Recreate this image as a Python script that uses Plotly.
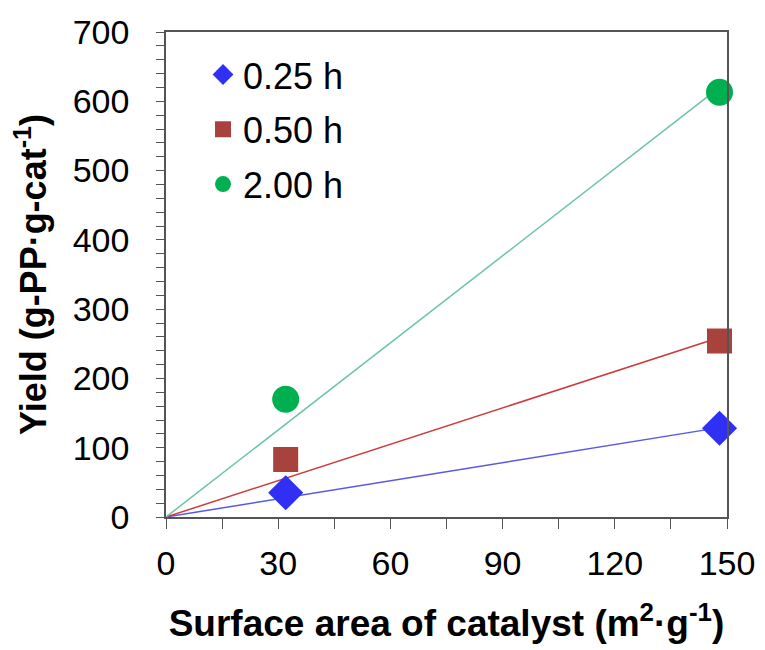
import plotly.graph_objects as go

# Data
series_names = ["0.25 h", "0.50 h", "2.00 h"]
surface_area = [32, 148]
yield_025 = [35, 128]
yield_050 = [83, 254]
yield_200 = [170, 613]

# Linear trendlines through origin (end points)
trend_x = [0, 148]
trend_025 = [0, 129]
trend_050 = [0, 259]
trend_200 = [0, 620]

marker_colors = ["#3030f5", "#a8423d", "#00b050"]
line_colors = ["#5858e8", "#cc3a3a", "#6cc4a0"]
symbols = ["diamond", "square", "circle"]
sizes = [27, 25, 27]

FONT = "Arial, Liberation Sans, sans-serif"

fig = go.Figure()

for ty, lc in zip([trend_025, trend_050, trend_200], line_colors):
    fig.add_trace(go.Scatter(x=trend_x, y=ty, mode="lines",
                             line=dict(color=lc, width=1.5),
                             showlegend=False, hoverinfo="skip"))

for i, (name, ys) in enumerate(zip(series_names, [yield_025, yield_050, yield_200])):
    fig.add_trace(go.Scatter(x=surface_area, y=ys, mode="markers", name=name,
                             legendgroup=name,
                             marker=dict(symbol=symbols[i], size=sizes[i],
                                         color=marker_colors[i], line=dict(width=0)),
                             cliponaxis=False))

fig.update_layout(
    width=765, height=650,
    margin=dict(l=158, r=46, t=24, b=141),
    paper_bgcolor="white", plot_bgcolor="white",
    font=dict(family=FONT, size=34, color="black"),
    showlegend=True,
    legend=dict(x=0.066, y=0.974, xanchor="left", yanchor="top",
                bgcolor="rgba(0,0,0,0)", font=dict(size=36),
                traceorder="grouped", tracegroupgap=5, itemwidth=30),
)

fig.update_xaxes(
    range=[0, 150], dtick=30, tick0=0, automargin="bottom",
    showline=True, linecolor="#555555", linewidth=1.5, mirror=True,
    ticks="outside", ticklen=10, tickcolor="#555555", tickwidth=1.2,
    minor=dict(dtick=15, ticks="outside", ticklen=10, tickcolor="#555555", tickwidth=1.2),
    showgrid=False, zeroline=False,
    tickfont=dict(size=34), ticklabelstandoff=5,
    title=dict(text="<b>Surface area of catalyst (m<sup>2</sup>·g<sup>-1</sup>)</b>",
               font=dict(size=37), standoff=30),
)
fig.update_yaxes(
    range=[0, 700], dtick=100, tick0=0, automargin="left",
    showline=True, linecolor="#555555", linewidth=1.5, mirror=True,
    ticks="outside", ticklen=8, tickcolor="#555555", tickwidth=1.2,
    minor=dict(dtick=20, ticks="outside", ticklen=8, tickcolor="#555555", tickwidth=1.2),
    showgrid=False, zeroline=False,
    tickfont=dict(size=34), ticklabelstandoff=20,
    title=dict(text="<b>Yield (g-PP·g-cat<sup>-1</sup>)</b>",
               font=dict(size=36), standoff=22),
)

fig.write_html("out.html")
